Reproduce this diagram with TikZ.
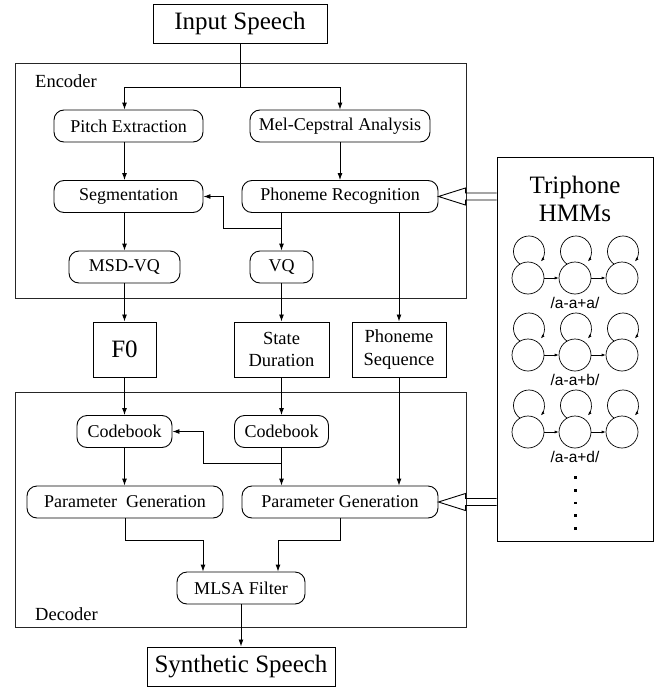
\documentclass[tikz,border=0pt]{standalone}
\usepackage{fontspec}
\setmainfont{Liberation Serif}
\newfontfamily\labelsans{Liberation Sans}
\usepackage{tikz}
\usetikzlibrary{arrows.meta, positioning, calc}

\begin{document}
\begin{tikzpicture}[
    x=1pt, y=1pt,
    block/.style={draw, line width=0.9pt, rectangle, rounded corners=10pt, inner sep=0pt, minimum height=32pt, font=\fontsize{18}{22}\selectfont},
    bigbox/.style={draw, line width=1pt, rectangle, inner sep=0pt, minimum height=39pt, font=\fontsize{25}{28}\selectfont},
    databox/.style={draw, line width=1pt, rectangle, inner sep=0pt, minimum height=55pt, align=center, font=\fontsize{18.5}{22.5}\selectfont},
    frame/.style={draw=black!85, line width=0.8pt, rectangle, minimum width=451pt, minimum height=235pt},
    framelabel/.style={anchor=west, inner sep=0pt, font=\fontsize{18.5}{22}\selectfont},
    arrow/.style={-{Latex[length=7pt, width=5pt]}, line width=0.9pt},
    state/.style={draw, circle, line width=0.7pt, minimum size=32pt, inner sep=0pt},
    trans/.style={-{Latex[length=4pt, width=3pt]}, line width=0.7pt},
    hollow/.style={line width=0.9pt, line join=miter}
]
\useasboundingbox (0,0) rectangle (655,-688);

% Frames
\node[frame] (encoder) at (240.5,-180.5) {};
\node[frame] (decoder) at (240.5,-509.5) {};
\node[framelabel] (enclabel) at (35,-81) {Encoder};
\node[framelabel] (declabel) at (35,-614) {Decoder};

% Nodes
\node[bigbox, minimum width=174pt] (input) at (240,-23.5) {Input Speech};
\node[block, minimum width=149pt] (pitch) at (128.5,-126) {Pitch Extraction};
\node[block, minimum width=180pt] (melcep) at (340,-126) {Mel-Cepstral Analysis};
\node[block, minimum width=149pt] (segment) at (128.5,-196.5) {Segmentation};
\node[block, minimum width=196pt] (phonrec) at (340,-196.5) {Phoneme Recognition};
\node[block, minimum width=111pt] (msdvq) at (124.5,-267) {MSD-VQ};
\node[block, minimum width=63pt] (vq) at (281.5,-267) {VQ};

\node[databox, minimum width=63pt, font=\fontsize{25}{28}\selectfont] (fzero) at (124.5,-349.5) {F0};
\node[databox, minimum width=95pt] (statedur) at (281.5,-349.5) {State\\Duration};
\node[databox, minimum width=94pt] (phonseq) at (399,-349.5) {Phoneme\\Sequence};

\node[block, minimum width=95pt] (cbleft) at (124.5,-431.5) {Codebook};
\node[block, minimum width=94pt] (cbright) at (281.5,-431.5) {Codebook};
\node[block, minimum width=196pt] (pgleft) at (125,-502) {Parameter~~Generation};
\node[block, minimum width=196pt] (pgright) at (340,-502) {Parameter Generation};
\node[block, minimum width=128pt] (mlsa) at (241,-588) {MLSA Filter};
\node[bigbox, minimum width=188pt] (output) at (241,-666.5) {Synthetic Speech};

% Triphone HMMs
\node[draw, line width=1pt, minimum width=156pt, minimum height=384pt] (triphone) at (575,-349) {};
\node[align=center, font=\fontsize{25}{28}\selectfont] (trititle) at (575,-199) {Triphone\\HMMs};
\foreach \row/\ctx in {1/a, 2/b, 3/d} {
  \pgfmathsetmacro\ys{-278-77*(\row-1)}
  \foreach \col in {1,2,3} {
    \node[state] (s\row\col) at (481+47*\col,\ys) {};
    \draw[trans] ([shift={(-7.9,13.8)}]s\row\col.center) arc[start angle=235, end angle=-40, radius=15.5];
  }
  \draw[trans] (s\row1) -- (s\row2);
  \draw[trans] (s\row2) -- (s\row3);
  \node[font=\labelsans\fontsize{15.5}{18}\selectfont] (ctx\row) at (575,\ys-25) {/a-a+\ctx/};
}
\foreach \k in {0,...,4}
  \node[fill, inner sep=0pt, minimum size=2.6pt] (dot\k) at (575.5,-477.5-12.7*\k) {};

% Connections
\draw[line width=0.9pt] (input.south) -- ++(0,-44) coordinate (split);
\draw[arrow] (split) -| (pitch.north -| msdvq);
\draw[arrow] (split) -| (melcep.north);
\draw[arrow] (pitch.south -| msdvq) -- (segment.north -| msdvq);
\draw[arrow] (melcep.south) -- (phonrec.north);
\draw[arrow] (segment.south -| msdvq) -- (msdvq.north);
\draw[arrow] (phonrec.south -| vq) -- (vq.north);
\draw[arrow] ($(phonrec.south -| vq)+(0,-15.5)$) -- ++(-58.5,0) |- (segment.east);
\draw[arrow] (phonrec.south -| phonseq) -- (phonseq.north);
\draw[arrow] (msdvq.south) -- (fzero.north);
\draw[arrow] (vq.south) -- (statedur.north);
\draw[arrow] (fzero.south) -- (cbleft.north);
\draw[arrow] (statedur.south) -- (cbright.north);
\draw[arrow] (cbleft.south) -- (pgleft.north -| cbleft);
\draw[arrow] (cbright.south) -- (pgright.north -| cbright);
\draw[arrow] ($(cbright.south)+(0,-15.5)$) -- ++(-78.5,0) |- (cbleft.east);
\draw[arrow] (phonseq.south) -- (pgright.north -| phonseq);
\draw[arrow] (pgleft.south) -- ++(0,-22) -| ([xshift=-38]mlsa.north);
\draw[arrow] (pgright.south) -- ++(0,-22) -| ([xshift=37]mlsa.north);
\draw[arrow] (mlsa.south) -- (output.north);

% Hollow arrows from the HMMs
\foreach \target in {phonrec, pgright}
  \draw[hollow] ($(triphone.west |- \target.east)+(0,3.5)$) -- ($(\target.east)+(27,3.5)$) -- ++(0,5)
    -- (\target.east) -- ($(\target.east)+(27,-8.5)$) -- ++(0,5) -- ($(triphone.west |- \target.east)+(0,-3.5)$);

\end{tikzpicture}
\end{document}
